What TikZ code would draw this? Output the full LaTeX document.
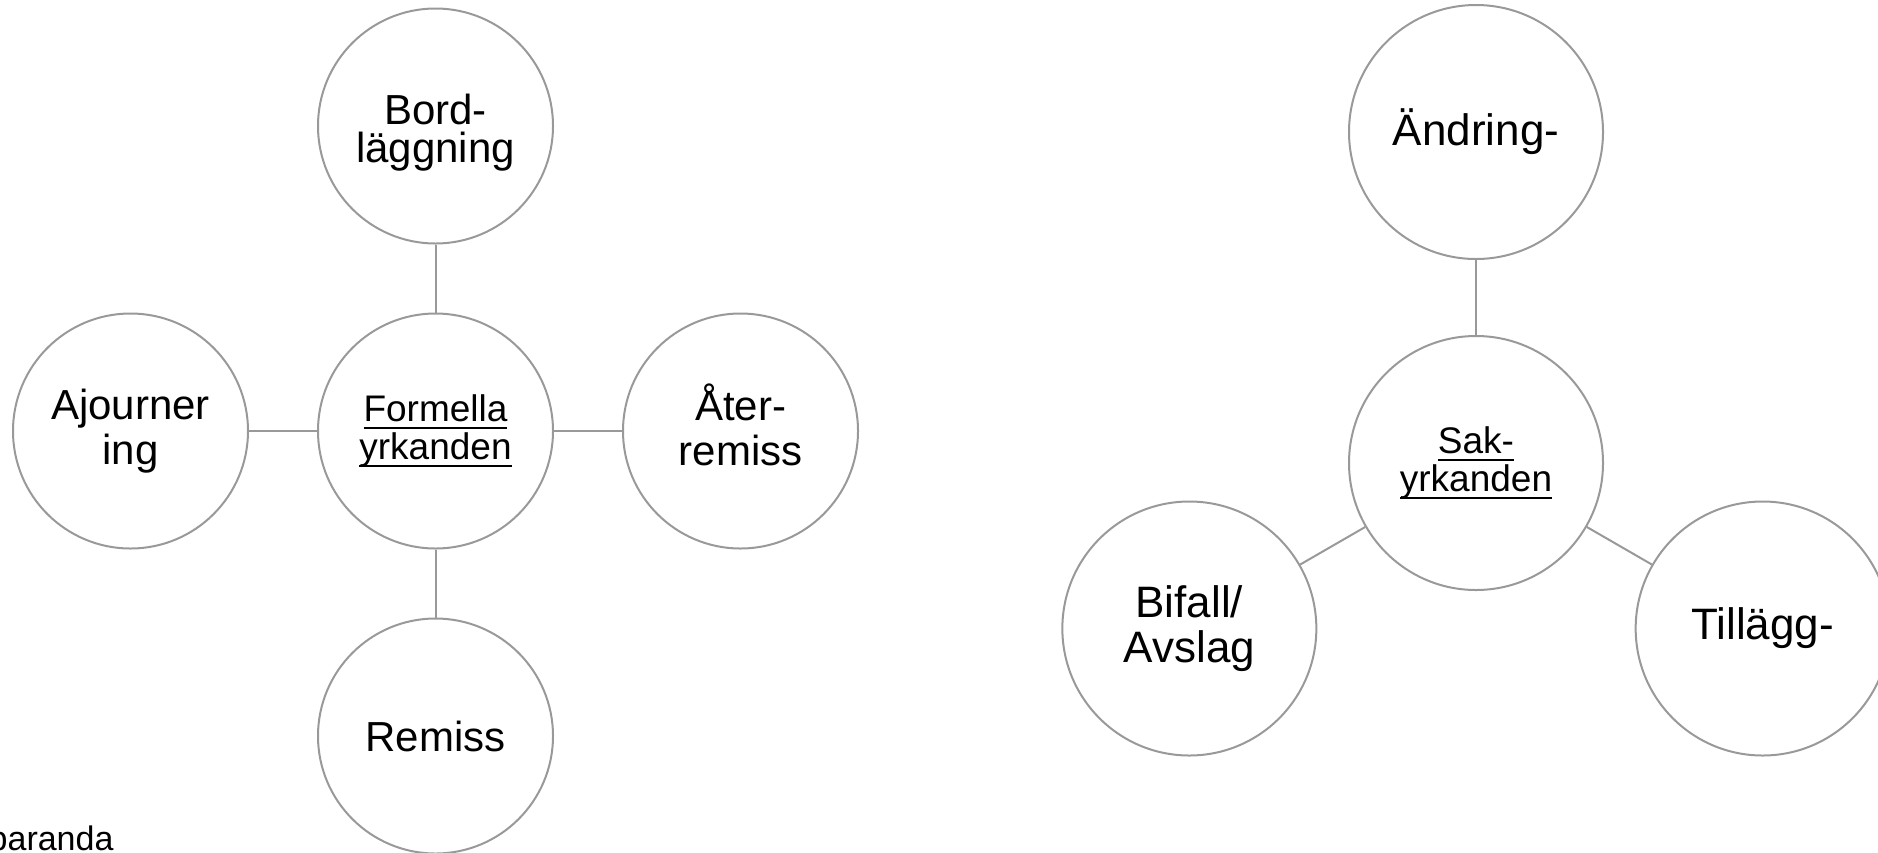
\documentclass[tikz,border=0pt]{standalone}
\usepackage{fontspec}
\setmainfont{Liberation Sans}
\newcommand{\undl}[1]{\setbox0\hbox{#1}\rlap{\rule[-3.85pt]{\wd0}{1.35pt}}\box0}
\definecolor{ringgray}{RGB}{153,153,153}
\tikzstyle{bubble} = [circle, draw=ringgray, line width=1pt, minimum size=117.5pt, inner sep=0pt, align=center, font=\fontsize{21pt}{22.5pt}\selectfont]
\tikzstyle{bigbubble} = [bubble, minimum size=127pt, font=\fontsize{22pt}{22.5pt}\selectfont]
\tikzstyle{hub} = [font=\fontsize{18.5pt}{19pt}\selectfont]
\tikzstyle{link} = [draw=ringgray, line width=1pt]

\begin{document}
\begin{tikzpicture}[node distance=152.5pt]
\useasboundingbox (0,0) rectangle (939pt,-426pt);

% formella yrkanden
\node[bubble,hub](formella) at (217.75pt,-215.5pt){\undl{Formella}\\\undl{yrkanden}};
\node[bubble,above of=formella,font=\fontsize{21pt}{19pt}\selectfont](bord){\rule{0pt}{22.3pt}Bord-\\läggning};
\path [link] (bord) -- (formella);
\node[bubble,left of=formella](ajourner){Ajourner\\ing};
\path [link] (ajourner) -- (formella);
\node[bubble,right of=formella](ater){Åter-\\remiss\rule[-6pt]{0pt}{6pt}};
\path [link] (formella) -- (ater);
\node[bubble,below of=formella](remiss){Remiss};
\path [link] (formella) -- (remiss);

% sakyrkanden
\node[bigbubble,hub](sak) at (738pt,-231.5pt){\undl{Sak-}\\\undl{yrkanden}};
\node[bigbubble,above of=sak,node distance=165.5pt](andring){Ändring-};
\path [link] (andring) -- (sak);
\node[bigbubble](bifall) at ([shift={(210:165.5pt)}]sak){Bifall/\\Avslag};
\path [link] (sak) -- (bifall);
\node[bigbubble](tillagg) at ([shift={(330:165.5pt)}]sak){Tillägg-};
\path [link] (sak) -- (tillagg);

\node[anchor=base west,inner sep=0pt,font=\fontsize{17pt}{17pt}\selectfont](paranda) at (-5.85pt,-425pt){paranda};

\end{tikzpicture}
\end{document}
